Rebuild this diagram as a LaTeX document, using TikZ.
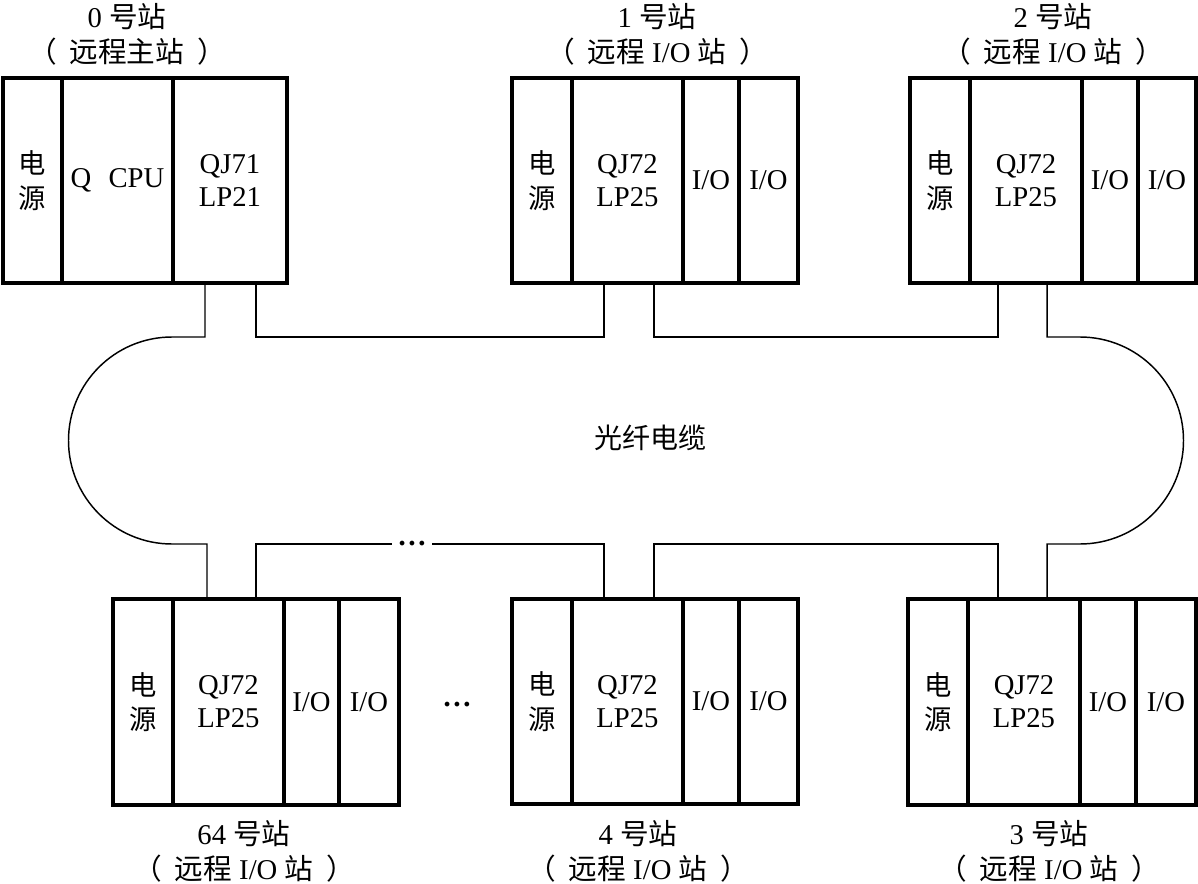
\documentclass[tikz,border=0pt]{standalone}
\usepackage{fontspec}
\setmainfont{Liberation Serif}
\newfontfamily\cjk{Noto Sans CJK SC}
\def\pxu{0.75pt}
\newcommand\lp{{\cjk （}\hspace{0.45em}}
\newcommand\rp{\hspace{0.45em}{\cjk ）}}
\begin{document}
\begin{tikzpicture}[x=0.75pt, y=-0.75pt,
  mod/.style={draw, line width=2.8pt, inner sep=0pt, outer sep=0pt, anchor=north west,
    align=center, font=\fontsize{21.5}{24.75}\selectfont},
  zhmod/.style={mod, font=\cjk\fontsize{20.5}{26}\selectfont},
  cable/.style={line width=1.1pt},
  title/.style={align=center, inner sep=0pt, font=\fontsize{21.5}{26}\selectfont},
  dotnode/.style={inner xsep=4pt, inner ysep=0pt, font=\bfseries\fontsize{22}{24}\selectfont},
  zh/.style={font=\cjk\fontsize{21}{24}\selectfont}]
\useasboundingbox (0,0) rectangle (1198,884);

% ---------- station 0 ----------
\node[zhmod, minimum width=59*\pxu, minimum height=205*\pxu] (p0) at (3,78) {电\\源};
\node[mod, minimum width=111*\pxu, minimum height=205*\pxu] (c0) at (62,78) {Q\hspace{0.6em}CPU};
\node[mod, minimum width=114*\pxu, minimum height=205*\pxu] (q0) at (173,78) {QJ71\\LP21};
\node[title] (t0) at (127,34) {0 {\cjk 号站}\\\lp{\cjk 远程主站}\rp};

% ---------- station 1 ----------
\node[zhmod, minimum width=60*\pxu, minimum height=205*\pxu] (p1) at (512,78) {电\\源};
\node[mod, minimum width=111*\pxu, minimum height=205*\pxu] (q1) at (572,78) {QJ72\\LP25};
\node[mod, minimum width=56*\pxu, minimum height=205*\pxu] (ia1) at (683,78) {I/O};
\node[mod, minimum width=59*\pxu, minimum height=205*\pxu] (ib1) at (739,78) {I/O};
\node[title] (t1) at (657,34) {1 {\cjk 号站}\\\lp{\cjk 远程} I/O {\cjk 站}\rp};

% ---------- station 2 ----------
\node[zhmod, minimum width=60*\pxu, minimum height=205*\pxu] (p2) at (910,78) {电\\源};
\node[mod, minimum width=112*\pxu, minimum height=205*\pxu] (q2) at (970,78) {QJ72\\LP25};
\node[mod, minimum width=56*\pxu, minimum height=205*\pxu] (ia2) at (1082,78) {I/O};
\node[mod, minimum width=58*\pxu, minimum height=205*\pxu] (ib2) at (1138,78) {I/O};
\node[title] (t2) at (1053,34) {2 {\cjk 号站}\\\lp{\cjk 远程} I/O {\cjk 站}\rp};

% ---------- station 64 ----------
\node[zhmod, minimum width=60*\pxu, minimum height=206*\pxu] (p64) at (113,599) {电\\源};
\node[mod, minimum width=111*\pxu, minimum height=206*\pxu] (q64) at (173,599) {QJ72\\LP25};
\node[mod, minimum width=55*\pxu, minimum height=206*\pxu] (ia64) at (284,599) {I/O};
\node[mod, minimum width=60*\pxu, minimum height=206*\pxu] (ib64) at (339,599) {I/O};
\node[title] (t64) at (244,851) {64 {\cjk 号站}\\\lp{\cjk 远程} I/O {\cjk 站}\rp};

% ---------- station 4 ----------
\node[zhmod, minimum width=60*\pxu, minimum height=205*\pxu] (p4) at (512,599) {电\\源};
\node[mod, minimum width=111*\pxu, minimum height=205*\pxu] (q4) at (572,599) {QJ72\\LP25};
\node[mod, minimum width=56*\pxu, minimum height=205*\pxu] (ia4) at (683,599) {I/O};
\node[mod, minimum width=59*\pxu, minimum height=205*\pxu] (ib4) at (739,599) {I/O};
\node[title] (t4) at (638,851) {4 {\cjk 号站}\\\lp{\cjk 远程} I/O {\cjk 站}\rp};

% ---------- station 3 ----------
\node[zhmod, minimum width=60*\pxu, minimum height=206*\pxu] (p3) at (908,599) {电\\源};
\node[mod, minimum width=112*\pxu, minimum height=206*\pxu] (q3) at (968,599) {QJ72\\LP25};
\node[mod, minimum width=56*\pxu, minimum height=206*\pxu] (ia3) at (1080,599) {I/O};
\node[mod, minimum width=60*\pxu, minimum height=206*\pxu] (ib3) at (1136,599) {I/O};
\node[title] (t3) at (1049,851) {3 {\cjk 号站}\\\lp{\cjk 远程} I/O {\cjk 站}\rp};

% ---------- labels and dots ----------
\node[zh] (fiber) at (650,438) {光纤电缆};
\node[dotnode] (dots1) at (412,544) {…};
\node[dotnode] (dots2) at (457,705) {…};

% ---------- cable reference points ----------
\coordinate (lt) at (172,337);
\coordinate (lb) at (172,544);
\coordinate (rt) at (1080,337);
\coordinate (rb) at (1080,544);

\coordinate (a0a) at ([xshift=32*\pxu]q0.south west);
\coordinate (a0b) at ([xshift=83*\pxu]q0.south west);
\coordinate (a1a) at ([xshift=32*\pxu]q1.south west);
\coordinate (a1b) at ([xshift=82*\pxu]q1.south west);
\coordinate (a2a) at ([xshift=28*\pxu]q2.south west);
\coordinate (a2b) at ([xshift=77*\pxu]q2.south west);
\coordinate (b64a) at ([xshift=34*\pxu]q64.north west);
\coordinate (b64b) at ([xshift=83*\pxu]q64.north west);
\coordinate (b4a) at ([xshift=32*\pxu]q4.north west);
\coordinate (b4b) at ([xshift=82*\pxu]q4.north west);
\coordinate (b3a) at ([xshift=30*\pxu]q3.north west);
\coordinate (b3b) at ([xshift=79*\pxu]q3.north west);

% ---------- cables ----------
\draw[cable] (a0a) -- (a0a |- lt) -- (lt)
  arc[start angle=90, end angle=270, radius=77.625pt] -- (b64a |- lb) -- (b64a);
\draw[cable] (a0b) -- (a0b |- lt) -- (a1a |- lt) -- (a1a);
\draw[cable] (a1b) -- (a1b |- lt) -- (a2a |- lt) -- (a2a);
\draw[cable] (a2b) -- (a2b |- rt) -- (rt)
  arc[start angle=90, end angle=-90, radius=77.625pt] -- (b3b |- rb) -- (b3b);
\draw[cable] (b4b) -- (b4b |- lb) -- (b3a |- lb) -- (b3a);
\draw[cable] (b64b) -- (b64b |- lb) -- (dots1.west |- lb);
\draw[cable] (dots1.east |- lb) -- (b4a |- lb) -- (b4a);
\end{tikzpicture}
\end{document}
